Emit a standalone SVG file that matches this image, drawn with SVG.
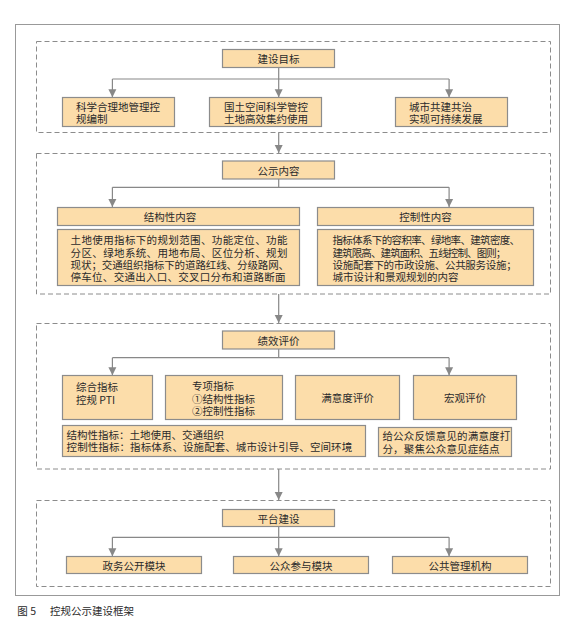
<svg xmlns="http://www.w3.org/2000/svg" width="574" height="631" viewBox="0 0 574 631">
<defs>
<style>
.box{fill:#FCDDAA;stroke:#8C8C8C;stroke-width:1.2}
.sec{fill:none;stroke:#8C8C8C;stroke-width:1;stroke-dasharray:5,3}
.ln{fill:none;stroke:#888;stroke-width:1.2}
.ar{fill:none;stroke:#888;stroke-width:1.2;marker-end:url(#ah)}
text{font-family:"Noto Sans CJK SC","Noto Sans",sans-serif;font-size:10.5px;fill:#2a2a2a;dominant-baseline:central}
.c{text-anchor:middle}
</style>
<marker id="ah" viewBox="0 0 8 10" refX="8" refY="5" markerWidth="8" markerHeight="10" markerUnits="userSpaceOnUse" orient="auto">
<path d="M0,1 L8,5 L0,9 Z" fill="#888"/>
</marker>
</defs>
<rect x="0" y="0" width="574" height="631" fill="#fff"/>
<rect x="15.5" y="24.5" width="544" height="571" fill="none" stroke="#999" stroke-width="1"/>
<g id="sections">
<rect class="sec" x="36.5" y="41.5" width="514" height="91"/>
<rect class="sec" x="36.5" y="153.5" width="514" height="140.5"/>
<rect class="sec" x="36.5" y="323.5" width="514" height="145.5"/>
<rect class="sec" x="36.5" y="500.5" width="514" height="86"/>
</g>
<g id="connectors">
<path class="ln" d="M278.7 67.5V79M112.4 79H449.1"/>
<path class="ar" d="M112.4 79V97.3"/>
<path class="ar" d="M278.7 79V97.3"/>
<path class="ar" d="M449.1 79V97.3"/>
<path class="ar" d="M278.7 132.3V153"/>
<path class="ln" d="M278.7 179V187.3M112.4 187.3H449.1"/>
<path class="ar" d="M112.4 187.3V207"/>
<path class="ar" d="M449.1 187.3V207"/>
<path class="ar" d="M278.7 294V323"/>
<path class="ln" d="M278.7 349V357.7M112.4 357.7H449.1"/>
<path class="ar" d="M112.4 357.7V375.3"/>
<path class="ar" d="M449.1 357.7V375.3"/>
<path class="ar" d="M278.7 469V500"/>
<path class="ln" d="M278.7 526.5V537.3M112.4 537.3H449.1"/>
<path class="ar" d="M112.4 537.3V556.3"/>
<path class="ar" d="M278.7 537.3V556.3"/>
<path class="ar" d="M449.1 537.3V556.3"/>
</g>
<g id="goal">
<rect class="box" x="222.5" y="49.5" width="112" height="18"/>
<text class="c" x="278.5" y="58.5">建设目标</text>
</g>
<g id="goal1">
<rect class="box" x="62.5" y="97.5" width="112" height="29"/>
<text x="76" y="106.7">科学合理地管理控<tspan x="76" dy="10.8">规编制</tspan></text>
</g>
<g id="goal2">
<rect class="box" x="209.5" y="97.5" width="112" height="29"/>
<text x="224" y="106.7">国土空间科学管控<tspan x="224" dy="10.8">土地高效集约使用</tspan></text>
</g>
<g id="goal3">
<rect class="box" x="395.5" y="97.5" width="112" height="29"/>
<text x="409" y="106.7">城市共建共治<tspan x="409" dy="10.8">实现可持续发展</tspan></text>
</g>
<g id="content">
<rect class="box" x="222.5" y="161" width="112" height="18"/>
<text class="c" x="278.5" y="170">公示内容</text>
</g>
<g id="struct">
<rect class="box" x="57.5" y="207.5" width="242" height="18"/>
<text class="c" x="170" y="216.5">结构性内容</text>
</g>
<g id="struct-detail">
<rect class="box" x="57.5" y="229.5" width="242" height="56"/>
<text x="70.6" y="238.7" font-size="11"><tspan x="70.6" y="238.7" letter-spacing="0.36">土地使用指标下的规划范围、功能定位、功能</tspan><tspan x="70.6" y="251.5" letter-spacing="0.36">分区、绿地系统、用地布局、区位分析、规划</tspan><tspan x="70.6" y="264" letter-spacing="-0.1">现状；交通组织指标下的道路红线、分级路网、</tspan><tspan x="70.6" y="276.3" letter-spacing="0.26">停车位、交通出入口、交叉口分布和道路断面</tspan></text>
</g>
<g id="control">
<rect class="box" x="317.5" y="207.5" width="216" height="18"/>
<text class="c" x="425.5" y="216.5">控制性内容</text>
</g>
<g id="control-detail">
<rect class="box" x="317.5" y="229.5" width="216" height="56"/>
<text x="332.5" y="238.7"><tspan x="332.5" y="238.7" letter-spacing="-0.66">指标体系下的容积率、绿地率、建筑密度、</tspan><tspan x="332.5" y="251.5" letter-spacing="-0.89">建筑限高、建筑面积、五线控制、图则；</tspan><tspan x="332.5" y="264" letter-spacing="-0.28">设施配套下的市政设施、公共服务设施；</tspan><tspan x="332.5" y="276.3">城市设计和景观规划的内容</tspan></text>
</g>
<g id="perf">
<rect class="box" x="222.5" y="331" width="112" height="18"/>
<text class="c" x="278.5" y="340">绩效评价</text>
</g>
<g id="pti">
<rect class="box" x="62.5" y="375.5" width="90" height="44"/>
<text x="76" y="386.7">综合指标<tspan x="76" dy="12.6">控规 PTI</tspan></text>
</g>
<g id="special">
<rect class="box" x="165.5" y="375.5" width="117" height="44"/>
<text x="192" y="385.3">专项指标<tspan x="192" y="397.5">①结构性指标</tspan><tspan x="192" y="410">②控制性指标</tspan></text>
</g>
<g id="satisfaction">
<rect class="box" x="295.5" y="375.5" width="104" height="44"/>
<text class="c" x="347.5" y="397.3">满意度评价</text>
</g>
<g id="macro">
<rect class="box" x="413.5" y="375.5" width="103" height="44"/>
<text class="c" x="465" y="397.3">宏观评价</text>
</g>
<g id="indicators">
<rect class="box" x="62.5" y="425.5" width="303" height="31"/>
<text x="66.6" y="434.2" font-size="11">结构性指标：土地使用、交通组织<tspan x="66.6" y="446.3" letter-spacing="0.08">控制性指标：指标体系、设施配套、城市设计引导、空间环境</tspan></text>
</g>
<g id="feedback">
<rect class="box" x="378.5" y="427.5" width="133" height="29"/>
<text x="382.4" y="435.8" letter-spacing="0.17">给公众反馈意见的满意度打<tspan x="382.4" y="447.5">分，聚焦公众意见症结点</tspan></text>
</g>
<g id="platform">
<rect class="box" x="222.5" y="509.5" width="112" height="17"/>
<text class="c" x="278.5" y="518">平台建设</text>
</g>
<g id="gov">
<rect class="box" x="66.5" y="556.5" width="135" height="17"/>
<text class="c" x="134" y="565">政务公开模块</text>
</g>
<g id="public">
<rect class="box" x="233.5" y="556.5" width="135" height="17"/>
<text class="c" x="301" y="565">公众参与模块</text>
</g>
<g id="agency">
<rect class="box" x="392.5" y="556.5" width="135" height="17"/>
<text class="c" x="460" y="565">公共管理机构</text>
</g>
<g id="caption">
<text x="17.3" y="610.5" font-size="12" fill="#444">图 5</text>
<text x="50" y="610.5" font-size="12" fill="#444">控规公示建设框架</text>
</g>
</svg>
